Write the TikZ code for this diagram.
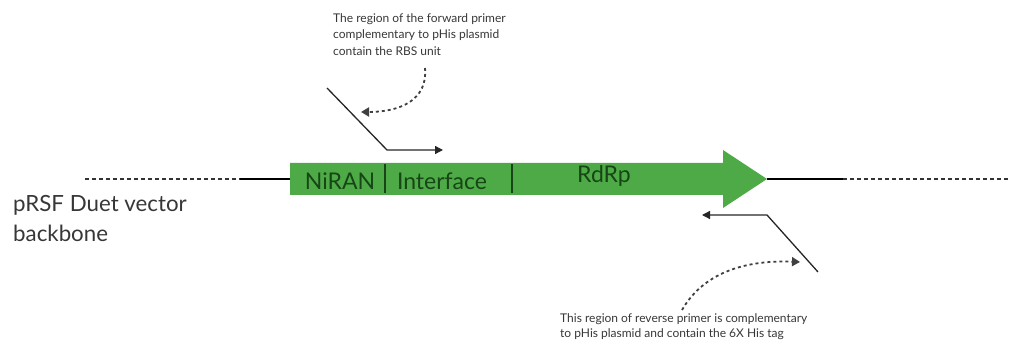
\documentclass[tikz,border=0pt]{standalone}
\usepackage{fontspec}
\setmainfont{Lato}
\usepackage{xcolor}
\usetikzlibrary{arrows.meta,positioning}
\definecolor{genegreen}{RGB}{78,170,70}
\definecolor{labelgreen}{RGB}{22,70,22}
\definecolor{notegray}{RGB}{55,55,55}
\tikzset{
  note/.style={font=\fontsize{12}{16.5}\selectfont, text=notegray, align=left, inner sep=0pt},
  domainlabel/.style={font=\fontsize{23}{26}\selectfont, text=labelgreen, inner sep=0pt},
  primer/.style={line width=1.3pt, black!85, -{Triangle[length=8pt,width=8pt]}},
  pointer/.style={line width=1.8pt, black!75, dash pattern=on 3pt off 3pt, -{Triangle[length=8pt,width=9pt]}},
  backbone/.style={line width=1.2pt, black!80, dash pattern=on 4pt off 3pt}
}
\begin{document}
\begin{tikzpicture}[x=1pt,y=-1pt]
  \useasboundingbox (0,0) rectangle (1012,352);

  % vector backbone
  \coordinate (bbL) at (85,179);
  \coordinate (bbLs) at (240,179);
  \coordinate (gStart) at (290,179);
  \coordinate (gTip) at (767,179);
  \coordinate (bbRs) at (843,179);
  \coordinate (bbR) at (1010,179);
  \draw[backbone] (bbL) -- (bbLs);
  \draw[line width=1.2pt] (bbLs) -- (gStart);
  \draw[line width=1.2pt] (gTip) -- (bbRs);
  \draw[backbone] (bbRs) -- (bbR);

  % gene arrow
  \fill[genegreen] (290,163) -- (723,163) -- (723,150) -- (gTip)
    -- (723,208) -- (723,195) -- (290,195) -- cycle;
  \draw[line width=1.4pt, labelgreen] (385,164) -- (385,193);
  \draw[line width=1.4pt, labelgreen] (512,164) -- (512,193);
  \node[domainlabel] (niran) at (340,181) {NiRAN};
  \node[domainlabel] (interface) at (442,181) {Interface};
  \node[domainlabel] (rdrp) at (604,176) {RdRp};

  % forward primer
  \coordinate (fwdA) at (327,88);
  \coordinate (fwdB) at (387,150);
  \coordinate (fwdC) at (443,150);
  \draw[primer] (fwdA) -- (fwdB) -- (fwdC);
  \node[note, anchor=north west] (fwdnote) at (333,13)
    {The region of the forward primer\\complementary to pHis plasmid\\contain the RBS unit};
  \coordinate (fwdP) at (425,68);
  \draw[pointer] (fwdP) .. controls (428,100) and (400,112) .. (361,112);

  % reverse primer
  \coordinate (revA) at (818,272);
  \coordinate (revB) at (767,215);
  \coordinate (revC) at (702,215);
  \draw[primer] (revA) -- (revB) -- (revC);
  \node[note, anchor=north west, font=\fontsize{12}{15}\selectfont] (revnote) at (560,313)
    {This region of reverse primer is complementary\\to pHis plasmid and contain the 6X His tag};
  \coordinate (revP) at (682,310);
  \draw[pointer] (revP) .. controls (705,270) and (750,260) .. (800,262);

  % backbone label
  \node[font=\fontsize{22.3}{30}\selectfont, text=notegray, align=left, anchor=north west, inner sep=0pt]
    (backlabel) at (13,195) {pRSF Duet vector\\backbone};
\end{tikzpicture}
\end{document}
